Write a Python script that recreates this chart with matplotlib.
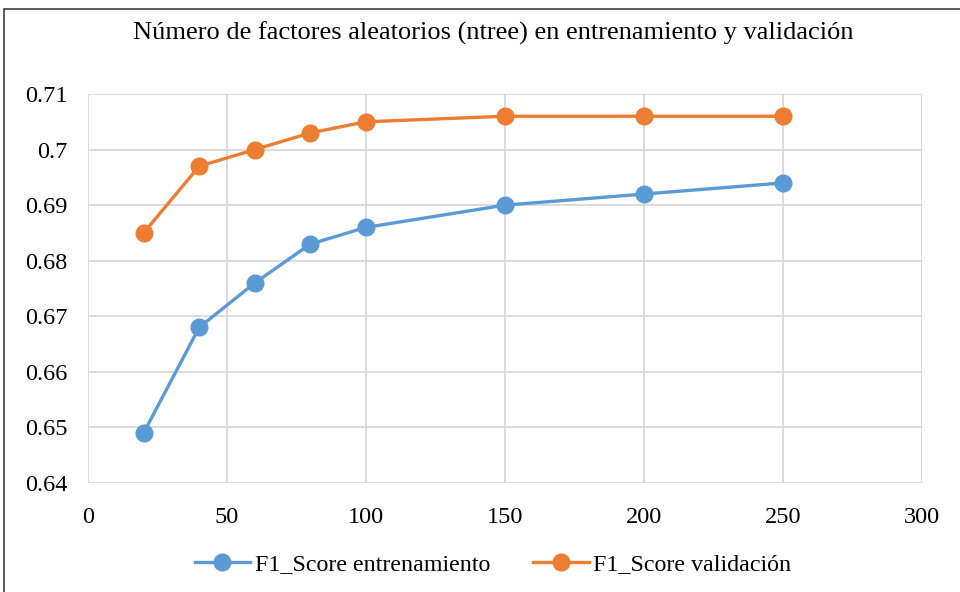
import matplotlib.pyplot as plt
from matplotlib.patches import Rectangle

# data
ntree = [20, 40, 60, 80, 100, 150, 200, 250]
f1_train = [0.649, 0.668, 0.676, 0.683, 0.686, 0.690, 0.692, 0.694]
f1_valid = [0.685, 0.697, 0.700, 0.703, 0.705, 0.706, 0.706, 0.706]
xticks = [0, 50, 100, 150, 200, 250, 300]
yticks = [0.64, 0.65, 0.66, 0.67, 0.68, 0.69, 0.70, 0.71]
ylabels = ["0.64", "0.65", "0.66", "0.67", "0.68", "0.69", "0.7", "0.71"]

plt.rcParams['font.family'] = ['Liberation Serif', 'DejaVu Serif']

fig = plt.figure(figsize=(9.6, 5.92), dpi=100)
ax = fig.add_axes([88/960, 1-483/592, (922-88)/960, (483-94)/592])

ax.plot(ntree, f1_train, color='#5B9BD5', lw=2.4, marker='o', ms=12,
        label='F1_Score entrenamiento', zorder=3)
ax.plot(ntree, f1_valid, color='#ED7D31', lw=2.4, marker='o', ms=12,
        label='F1_Score validación', zorder=3)

ax.set_xlim(0, 300)
ax.set_ylim(0.64, 0.71)
ax.set_xticks(xticks)
ax.set_yticks(yticks)
ax.set_yticklabels(ylabels)
ax.grid(True, color='#D9D9D9', lw=1.3)
for s in ax.spines.values():
    s.set_visible(False)
ax.tick_params(length=0, labelsize=17.5)
ax.tick_params(axis='x', pad=17)
ax.tick_params(axis='y', pad=15)

fig.text(493/960, 1-33/592, 'Número de factores aleatorios (ntree) en entrenamiento y validación',
         ha='center', va='center', fontsize=19)

fig.legend(loc='center', bbox_to_anchor=(493/960, 1-564/592), ncol=2, frameon=False,
           fontsize=17.3, handlelength=2.3, columnspacing=1.8, handletextpad=0.2)

# chart frame (cut off at right and bottom like the reference)
fig.patches.append(Rectangle((4/960, -0.1), 1.2, 1-9/592+0.1, transform=fig.transFigure,
                             fill=False, edgecolor='#404040', lw=1.2))

fig.savefig('out.png', dpi=100)
